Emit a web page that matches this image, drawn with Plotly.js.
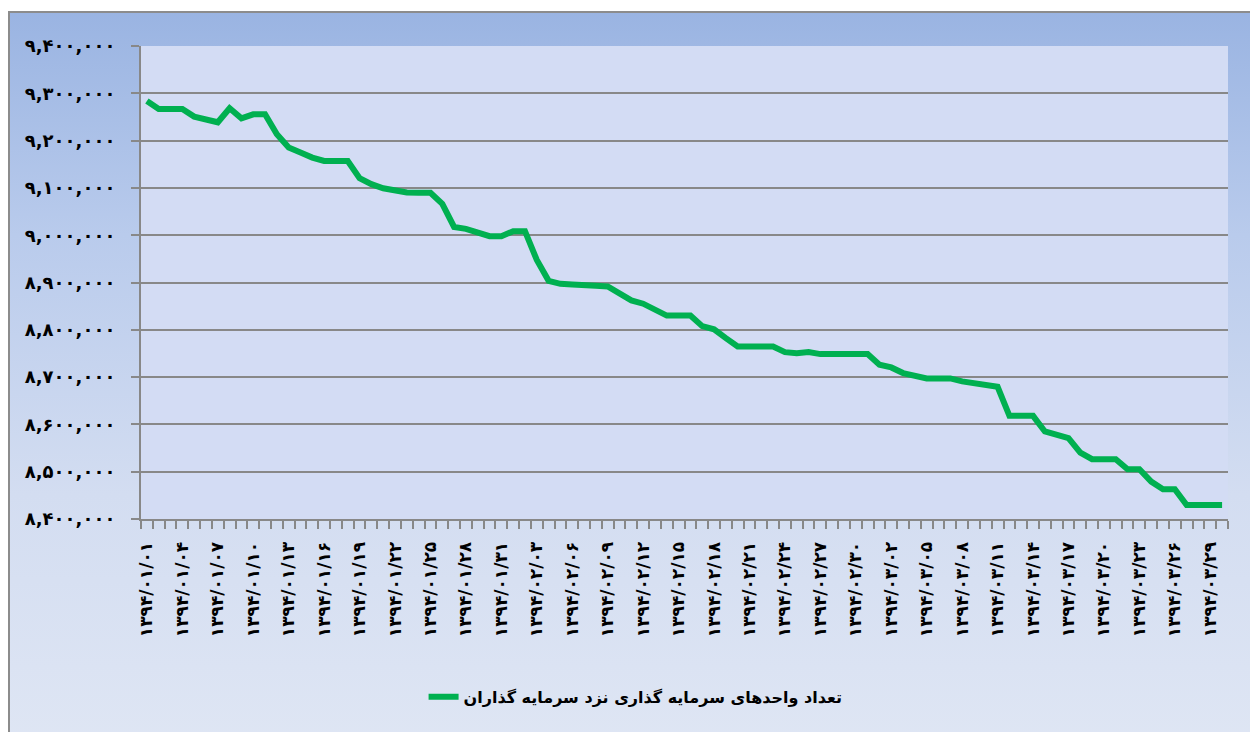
<!DOCTYPE html>
<html>
<head>
<meta charset="utf-8">
<script src="https://cdn.plot.ly/plotly-3.0.1.min.js"></script>
<style>
  html, body { margin:0; padding:0; width:1250px; height:732px; background:#ffffff; overflow:hidden; }
  #frame { position:absolute; left:8px; top:11px; width:1260px; height:740px;
           border-left:2px solid #8c8c8c; border-top:2px solid #8c8c8c;
           background:linear-gradient(to bottom, #9ab4e2 0%, #b9cbec 30%, #d3ddf1 65%, #dfe6f4 100%); }
  #chart { position:absolute; left:0; top:0; width:1250px; height:732px; }
</style>
</head>
<body>
<div id="frame"></div>
<div id="chart"></div>
<script>
// Dates (category labels), 1394/01/01 .. 1394/03/30
const categories = [
  "1394/01/01","1394/01/02","1394/01/03","1394/01/04","1394/01/05","1394/01/06","1394/01/07","1394/01/08",
  "1394/01/09","1394/01/10","1394/01/11","1394/01/12","1394/01/13","1394/01/14","1394/01/15","1394/01/16",
  "1394/01/17","1394/01/18","1394/01/19","1394/01/20","1394/01/21","1394/01/22","1394/01/23","1394/01/24",
  "1394/01/25","1394/01/26","1394/01/27","1394/01/28","1394/01/29","1394/01/30","1394/01/31",
  "1394/02/01","1394/02/02","1394/02/03","1394/02/04","1394/02/05","1394/02/06","1394/02/07","1394/02/08",
  "1394/02/09","1394/02/10","1394/02/11","1394/02/12","1394/02/13","1394/02/14","1394/02/15","1394/02/16",
  "1394/02/17","1394/02/18","1394/02/19","1394/02/20","1394/02/21","1394/02/22","1394/02/23","1394/02/24",
  "1394/02/25","1394/02/26","1394/02/27","1394/02/28","1394/02/29","1394/02/30","1394/02/31",
  "1394/03/01","1394/03/02","1394/03/03","1394/03/04","1394/03/05","1394/03/06","1394/03/07","1394/03/08",
  "1394/03/09","1394/03/10","1394/03/11","1394/03/12","1394/03/13","1394/03/14","1394/03/15","1394/03/16",
  "1394/03/17","1394/03/18","1394/03/19","1394/03/20","1394/03/21","1394/03/22","1394/03/23","1394/03/24",
  "1394/03/25","1394/03/26","1394/03/27","1394/03/28","1394/03/29","1394/03/30"
];

// Number of investment units held by investors
const units = [
  9283800, 9266900, 9266900, 9266900, 9250700, 9244400, 9238700, 9268300,
  9247200, 9255600, 9255600, 9213400, 9185200, 9174700, 9164100, 9157000,
  9157000, 9157000, 9120400, 9107800, 9099300, 9093700, 9090200, 9089500,
  9089500, 9066400, 9017500, 9013300, 9007000, 8997900, 8997900,
  9008400, 9008400, 8947600, 8903500, 8897200, 8895800, 8893000, 8893000,
  8891600, 8877600, 8862200, 8855200, 8842700, 8830100, 8830100, 8830100,
  8807700, 8801000, 8782400, 8764800, 8764800, 8764800, 8764800, 8752800,
  8750700, 8752800, 8748600, 8748600, 8748600, 8748600, 8748600,
  8726100, 8720400, 8708500, 8701400, 8697200, 8697200, 8697200, 8691000,
  8686500, 8683400, 8679500, 8618100, 8618100, 8618100, 8585000, 8577900,
  8570900, 8540500, 8526400, 8526400, 8526400, 8505200, 8505200, 8479100,
  8462900, 8462900, 8429700, 8429700, 8429700, 8429700
];

const seriesName = "تعداد واحدهای سرمایه گذاری نزد سرمایه گذاران";
const yTickValues = [8400000, 8500000, 8600000, 8700000, 8800000, 8900000, 9000000, 9100000, 9200000, 9300000, 9400000];
const labelStep = 3;

const faDigits = "۰۱۲۳۴۵۶۷۸۹";
function toFa(s) { return String(s).replace(/[0-9]/g, d => faDigits[+d]); }
function fmtNum(n) { return toFa(n.toLocaleString("en-US")); }

const xIdx = categories.map((_, i) => i);
const xTickVals = xIdx.filter(i => i % labelStep === 0);
const xTickText = xTickVals.map(i => toFa(categories[i]));

const fontFam = "'DejaVu Sans', 'Noto Sans', sans-serif";

const trace = {
  x: xIdx,
  y: units,
  text: categories,
  type: "scatter",
  mode: "lines",
  name: seriesName,
  line: { color: "#00b050", width: 6, shape: "linear" },
  hoverinfo: "text+y"
};

const layout = {
  width: 1250, height: 732,
  margin: { l: 141, r: 22, t: 46, b: 213 },
  paper_bgcolor: "rgba(0,0,0,0)",
  plot_bgcolor: "#d3dcf4",
  showlegend: true,
  legend: {
    orientation: "h", x: 0.455, xanchor: "center", y: -0.376, yanchor: "middle",
    bgcolor: "rgba(0,0,0,0)",
    font: { family: fontFam, size: 16, color: "#000000", weight: "bold" }
  },
  xaxis: {
    type: "linear",
    range: [-0.5, categories.length - 0.5],
    tickmode: "array",
    tickvals: xTickVals,
    ticktext: xTickText,
    tickangle: -90,
    ticks: "",
    ticklabelstandoff: 14,
    tickfont: { family: fontFam, size: 17, color: "#000000", weight: "bold" },
    showgrid: false,
    zeroline: false,
    showline: true, linecolor: "#888888", linewidth: 2,
    minor: { tickmode: "linear", tick0: -0.5, dtick: 1, ticks: "outside", ticklen: 8,
             tickwidth: 2, tickcolor: "#888888", showgrid: false },
    fixedrange: true
  },
  yaxis: {
    range: [yTickValues[0], yTickValues[yTickValues.length - 1]],
    tickmode: "array",
    tickvals: yTickValues,
    ticktext: yTickValues.map(fmtNum),
    ticks: "outside", ticklen: 8, tickwidth: 2, tickcolor: "#888888",
    ticklabelstandoff: 12,
    tickfont: { family: fontFam, size: 18, color: "#000000", weight: "bold" },
    showgrid: true, gridcolor: "#888888", gridwidth: 2,
    zeroline: false,
    showline: true, linecolor: "#888888", linewidth: 2,
    fixedrange: true
  }
};

Plotly.newPlot("chart", [trace], layout, { displayModeBar: false, staticPlot: true });
</script>
</body>
</html>
